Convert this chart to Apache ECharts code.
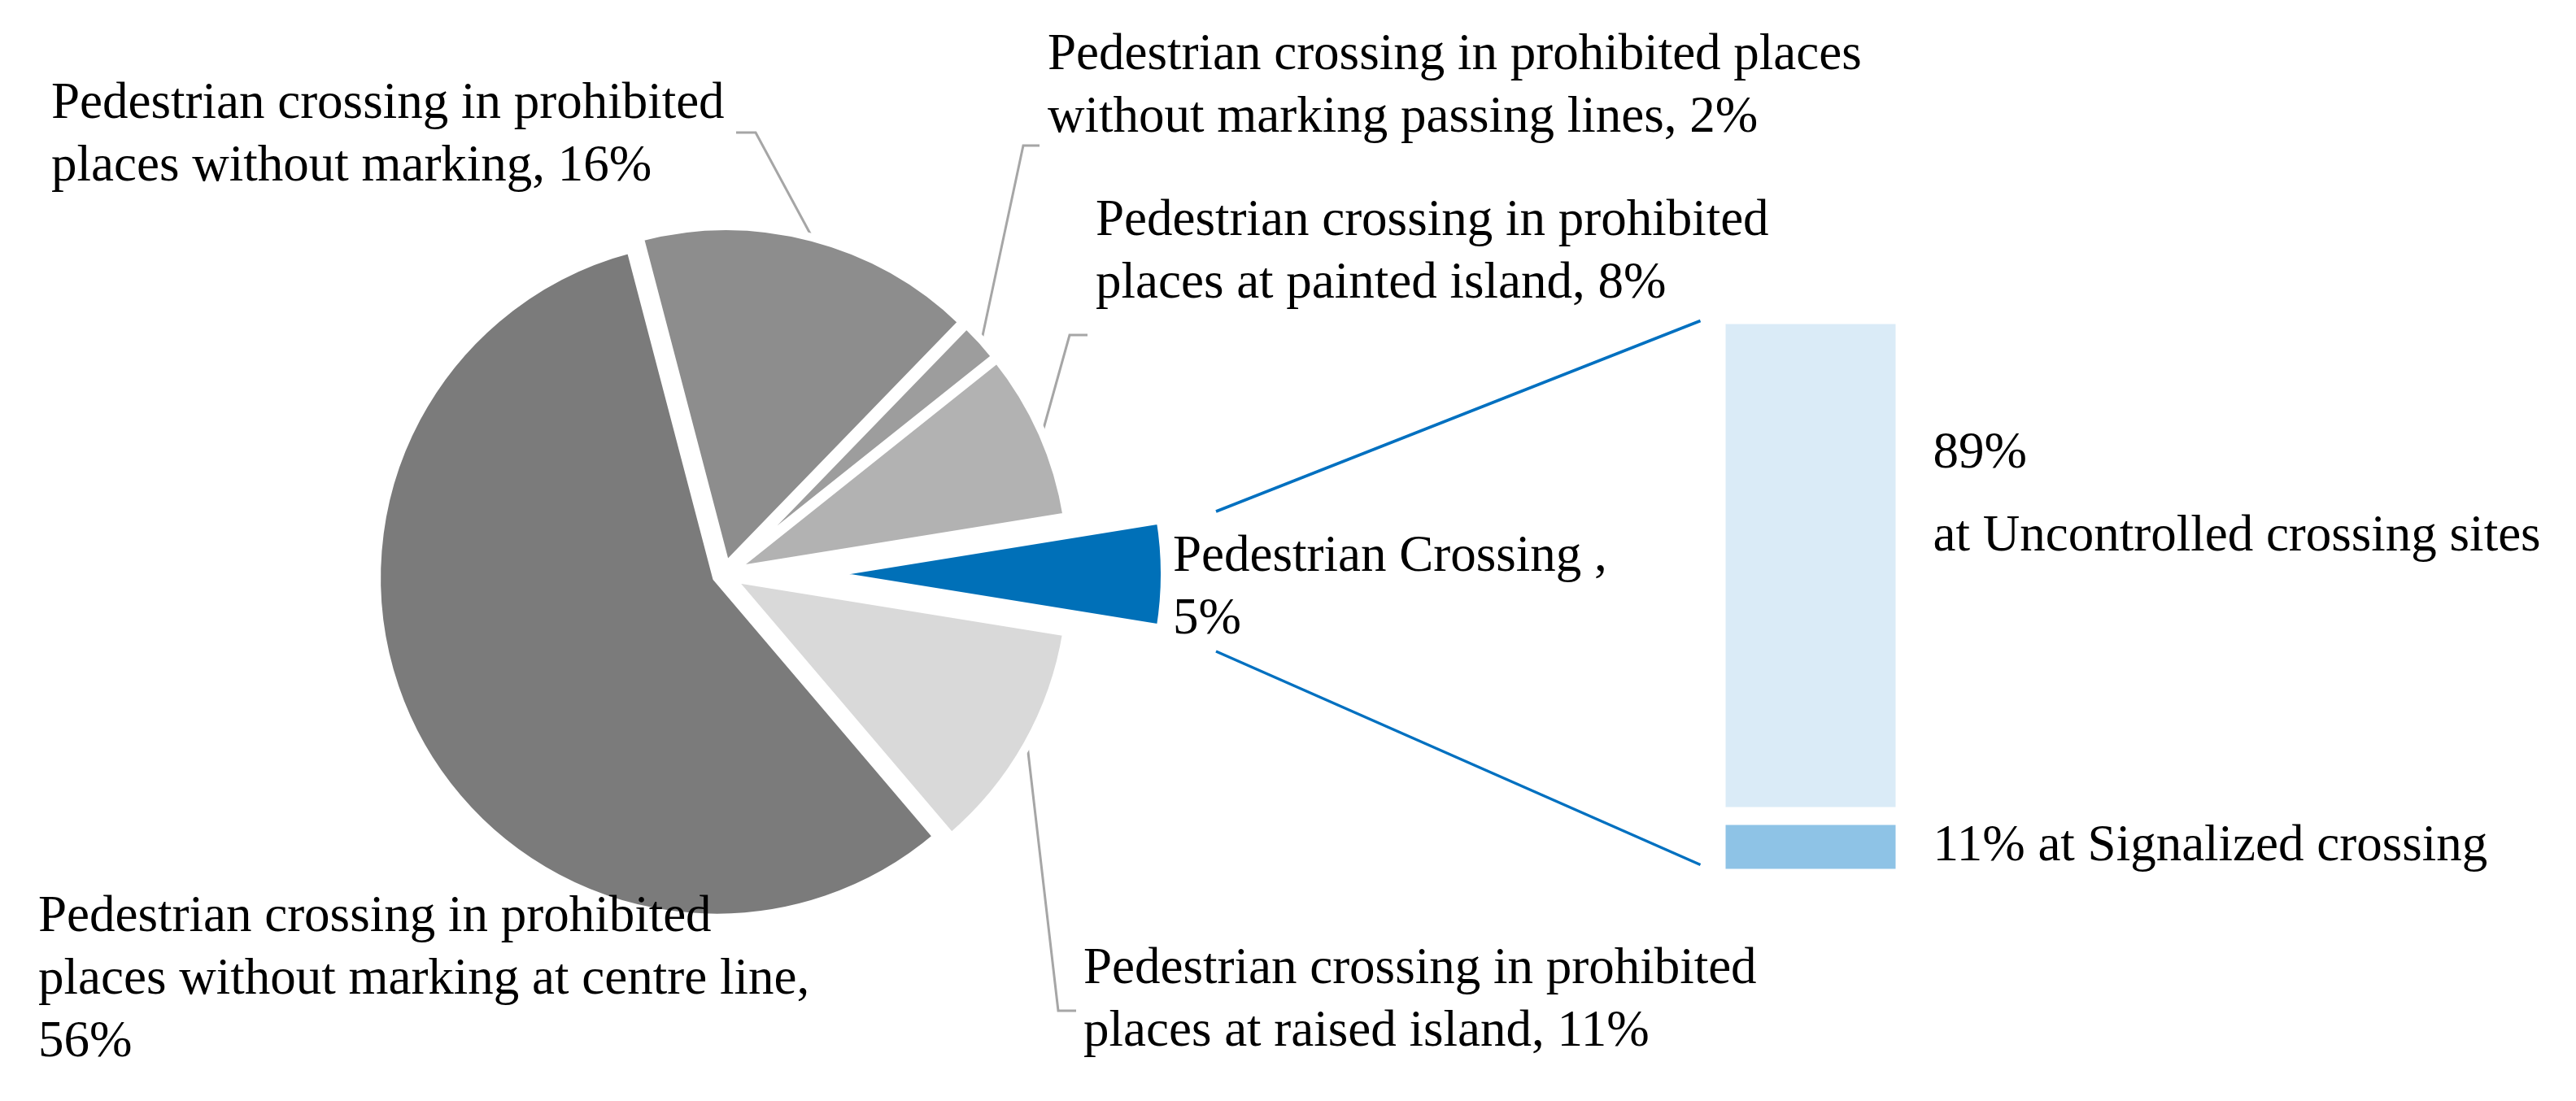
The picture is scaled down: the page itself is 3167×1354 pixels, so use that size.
<!DOCTYPE html>
<html>
<head>
<meta charset="utf-8">
<script src="https://cdn.jsdelivr.net/npm/echarts@6/dist/echarts.min.js"></script>
<style>
html, body { margin: 0; padding: 0; background: #fff; }
#main { width: 3167px; height: 1354px; }
</style>
</head>
<body>
<div id="main"></div>
<script>
// pie slices, clockwise from the edge left of 12 o'clock
var pieNames = [
  'Pedestrian crossing in prohibited\nplaces without marking',
  'Pedestrian crossing in prohibited places\nwithout marking passing lines',
  'Pedestrian crossing in prohibited\nplaces at painted island',
  'Pedestrian Crossing ,\n',
  'Pedestrian crossing in prohibited\nplaces at raised island',
  'Pedestrian crossing in prohibited\nplaces without marking at centre line,\n'
];
var pieValues = [16, 2, 8, 5, 11, 56];
var pieColors = ['#8d8d8d', '#9d9d9d', '#b2b2b2', '#0070b8', '#d9d9d9', '#7b7b7b'];
var splitIndex = 3;

// bar that breaks down the split slice, bottom to top
var barNames = ['at Signalized crossing', 'at Uncontrolled crossing sites'];
var barValues = [11, 89];
var barColors = ['#8ec3e6', '#daebf7'];

var FONT = 'Liberation Serif';
var cx = 890, cy = 706, R = 418;
var gap = 10, splitGap = 124;

// where each pie label sits, and the bend + end of its leader line
var labelPos = [
  { x: 63, y: 90, line: [[929, 163], [905, 163]] },
  { x: 1288, y: 30, line: [[1258, 179], [1278, 179]] },
  { x: 1347, y: 234, line: [[1315, 412], [1337, 412]] },
  { x: 1442, y: 647 },
  { x: 1332, y: 1154, line: [[1301, 1243], [1323, 1243]] },
  { x: 47, y: 1090 }
];

var total = 0;
pieValues.forEach(function (v) { total += v; });
var before = 0;
for (var k = 0; k < splitIndex; k++) before += pieValues[k];
// turn the pie so that the split slice points to 3 o'clock
var startAngle = (before + pieValues[splitIndex] / 2) / total * 360;

var series = [];
var cum = 0;
pieValues.forEach(function (v, i) {
  var mid = (startAngle - (cum + v / 2) / total * 360) * Math.PI / 180;
  cum += v;
  var off = i === splitIndex ? splitGap : gap;
  series.push({
    type: 'pie',
    silent: true,
    animation: false,
    center: [cx + off * Math.cos(mid), cy - off * Math.sin(mid)],
    radius: R,
    startAngle: startAngle,
    clockwise: true,
    avoidLabelOverlap: false,
    emphasis: { disabled: true },
    data: pieValues.map(function (w, j) {
      var on = j === i;
      return {
        name: pieNames[j],
        value: w,
        itemStyle: on ? { color: pieColors[j], borderColor: '#fff', borderWidth: 10 }
                      : { color: 'rgba(0,0,0,0)', borderWidth: 0 },
        label: { show: on },
        labelLine: { show: on && !!labelPos[j].line }
      };
    }),
    label: {
      position: 'outside',
      color: '#000',
      fontFamily: FONT,
      fontSize: 63,
      lineHeight: 77,
      formatter: function (p) {
        return p.name.slice(-1) === '\n' ? p.name + p.value + '%' : p.name + ', ' + p.value + '%';
      }
    },
    labelLine: { length: 20, length2: 20, lineStyle: { color: '#a6a6a6', width: 3 } },
    labelLayout: function (p) {
      if (p.dataIndex !== p.seriesIndex) return {};
      var pos = labelPos[p.dataIndex];
      var res = { x: pos.x, y: pos.y, align: 'left', verticalAlign: 'top' };
      if (pos.line && p.labelLinePoints) {
        res.labelLinePoints = [p.labelLinePoints[0], pos.line[0], pos.line[1]];
      }
      return res;
    }
  });
});

var barGrid = { left: 2110.5, top: 387.5, width: 231, height: 692 };

series.push({
  type: 'bar',
  name: barNames[0],
  stack: 'split',
  silent: true,
  animation: false,
  barCategoryGap: '0%',
  data: [barValues[0]],
  itemStyle: { color: barColors[0], borderColor: '#fff', borderWidth: 11 },
  label: {
    show: true, position: [266, 0], align: 'left', verticalAlign: 'top',
    color: '#000', fontFamily: FONT, fontSize: 63, lineHeight: 77,
    formatter: '{c}% {a}'
  }
});
series.push({
  type: 'bar',
  name: barNames[1],
  stack: 'split',
  silent: true,
  animation: false,
  barCategoryGap: '0%',
  data: [barValues[1]],
  itemStyle: { color: barColors[1], borderColor: '#fff', borderWidth: 11 },
  label: {
    show: true, position: [266, 120], align: 'left', verticalAlign: 'top',
    color: '#000', fontFamily: FONT, fontSize: 63, lineHeight: 102,
    formatter: '{c}%\n{a}'
  }
});

var chart = echarts.init(document.getElementById('main'), null, { renderer: 'canvas' });
chart.setOption({
  backgroundColor: '#fff',
  animation: false,
  grid: barGrid,
  xAxis: { type: 'category', data: ['split'], show: false },
  yAxis: { type: 'value', min: 0, max: 100, show: false },
  series: series
});

// series lines from the split slice to the bar
var yTop = chart.convertToPixel({ yAxisIndex: 0 }, 100);
var yBot = chart.convertToPixel({ yAxisIndex: 0 }, 0);
var splitOuter = series[splitIndex].center[0] + R;
var lineStyle = { stroke: '#0070c0', lineWidth: 3.5 };
chart.setOption({
  graphic: [
    { type: 'line', silent: true, shape: { x1: splitOuter + 63, y1: cy - 77, x2: barGrid.left - 20, y2: yTop + 7 }, style: lineStyle },
    { type: 'line', silent: true, shape: { x1: splitOuter + 63, y1: cy + 95, x2: barGrid.left - 20, y2: yBot - 16 }, style: lineStyle }
  ]
});
</script>
</body>
</html>
